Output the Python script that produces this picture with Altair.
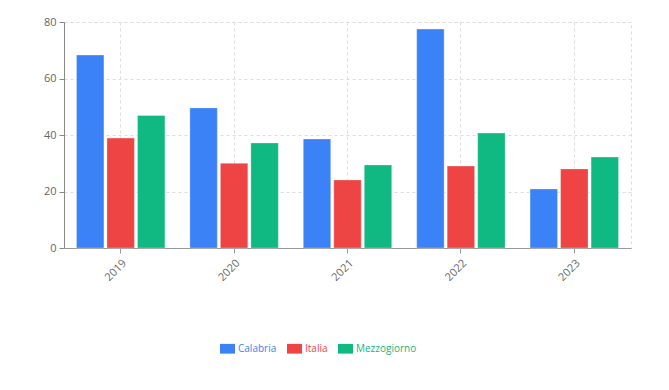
import altair as alt
import pandas as pd

years = ["2019", "2020", "2021", "2022", "2023"]
series = ["Calabria", "Italia", "Mezzogiorno"]
calabria = [68.3, 49.6, 38.6, 77.5, 20.9]
italia = [38.9, 30.0, 24.1, 29.0, 28.0]
mezzogiorno = [46.9, 37.2, 29.4, 40.7, 32.2]
colors = ["#3B82F6", "#EF4444", "#10B981"]

rows = []
for name, vals in zip(series, [calabria, italia, mezzogiorno]):
    for y, v in zip(years, vals):
        rows.append({"anno": y, "serie": name, "valore": v})
df = pd.DataFrame(rows)

font = "Open Sans"
grey = "#666666"

chart = alt.Chart(df).mark_bar(stroke="white", strokeWidth=0.6, strokeOpacity=0.5).encode(
    x=alt.X("anno:N", sort=years, title=None,
            scale=alt.Scale(paddingInner=0.22, paddingOuter=0.11),
            axis=alt.Axis(labelAngle=-45, labelColor=grey, labelFontSize=11, labelFont=font,
                          domainColor="#999999", tickColor="#999999", grid=True,
                          gridDash=[3, 3], gridColor="#dddddd", labelPadding=4)),
    xOffset=alt.XOffset("serie:N", sort=series, scale=alt.Scale(paddingInner=0.1)),
    y=alt.Y("valore:Q", title=None,
            scale=alt.Scale(domain=[0, 80]),
            axis=alt.Axis(values=[0, 20, 40, 60, 80], labelColor=grey, labelFontSize=11,
                          labelFont=font, domainColor="#888888", tickColor="#888888",
                          gridDash=[3, 3], gridColor="#dddddd", labelPadding=3)),
    color=alt.Color("serie:N", sort=series,
                    scale=alt.Scale(domain=series, range=colors),
                    legend=alt.Legend(title=None, orient="none", direction="horizontal",
                                      legendX=156, legendY=319,
                                      symbolType="M-1,-0.65L1,-0.65L1,0.65L-1,0.65Z",
                                      symbolSize=225,
                                      symbolStrokeWidth=0, labelFont=font,
                                      labelFontSize=10, columnPadding=10, labelOffset=3,
                                      labelColor=alt.ExprRef(expr="scale('color', datum.value)"))),
).properties(
    width=567, height=226,
    padding={"left": 64, "top": 22, "right": 38, "bottom": 142},
    autosize=alt.AutoSizeParams(type="none"),
).configure_view(
    stroke="#dddddd", strokeDash=[3, 3]
)

chart.save("out.html", embed_options={"renderer": "svg", "actions": False})
